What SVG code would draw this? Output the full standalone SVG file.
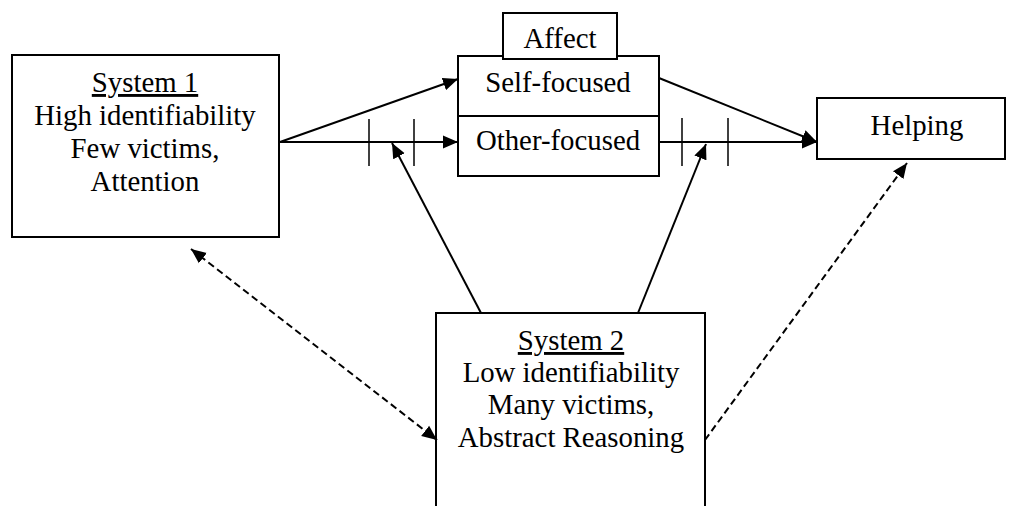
<svg xmlns="http://www.w3.org/2000/svg" width="1009" height="506" viewBox="0 0 1009 506">
<style>
.box{fill:#fff;stroke:#000;stroke-width:2}
.t{font-size:28.8px;fill:#000;text-anchor:middle}
.c{stroke:#000;stroke-width:2;fill:none}
.d{stroke:#000;stroke-width:2;fill:none;stroke-dasharray:7 4}
.tick{stroke:#000;stroke-width:1.5}
</style>
<defs>
<marker id="ah" markerUnits="userSpaceOnUse" markerWidth="16" markerHeight="14" refX="15" refY="7" orient="auto-start-reverse">
<path d="M0,0.5 L15,7 L0,13.5 Z" fill="#000"/>
</marker>
</defs>
<rect width="1009" height="506" fill="#fff"/>
<g font-family="'Liberation Serif', 'Times New Roman', 'DejaVu Serif', serif">
<g id="system1">
<rect class="box" x="12" y="55" width="267" height="182"/>
<text class="t" x="145" y="92" text-decoration="underline">System 1</text>
<text class="t" x="145" y="125">High identifiability</text>
<text class="t" x="145" y="158">Few victims,</text>
<text class="t" x="145" y="191">Attention</text>
</g>
<g id="self-focused">
<rect class="box" x="458" y="56" width="201" height="60"/>
<text class="t" x="558" y="92">Self-focused</text>
</g>
<g id="other-focused">
<rect class="box" x="458" y="116" width="201" height="60"/>
<text class="t" x="558" y="150">Other-focused</text>
</g>
<g id="affect">
<rect class="box" x="503" y="13" width="114" height="46"/>
<text class="t" x="560" y="48">Affect</text>
</g>
<g id="helping">
<rect class="box" x="817" y="98" width="188" height="61"/>
<text class="t" x="917" y="135">Helping</text>
</g>
<g id="system2">
<rect class="box" x="436" y="313" width="269" height="200"/>
<text class="t" x="571" y="350" text-decoration="underline">System 2</text>
<text class="t" x="571" y="382">Low identifiability</text>
<text class="t" x="571" y="414">Many victims,</text>
<text class="t" x="571" y="447">Abstract Reasoning</text>
</g>
</g>
<g id="connectors">
<line class="c" x1="280" y1="142" x2="458" y2="79" marker-end="url(#ah)"/>
<line class="c" x1="280" y1="142" x2="458" y2="142" marker-end="url(#ah)"/>
<line class="tick" x1="369" y1="119" x2="369" y2="166"/>
<line class="tick" x1="414" y1="119" x2="414" y2="166"/>
<line class="c" x1="659" y1="78" x2="817" y2="142" marker-end="url(#ah)"/>
<line class="c" x1="659" y1="142" x2="817" y2="142" stroke-width="2.5" marker-end="url(#ah)"/>
<line class="tick" x1="682" y1="118" x2="682" y2="166"/>
<line class="tick" x1="728" y1="118" x2="728" y2="166"/>
<line class="c" x1="481" y1="313" x2="392" y2="143" marker-end="url(#ah)"/>
<line class="c" x1="638" y1="313" x2="706" y2="144" marker-end="url(#ah)"/>
<line class="d" x1="191" y1="249" x2="437" y2="440" marker-start="url(#ah)" marker-end="url(#ah)"/>
<line class="d" x1="705" y1="440" x2="907" y2="163" marker-end="url(#ah)"/>
</g>
</svg>
